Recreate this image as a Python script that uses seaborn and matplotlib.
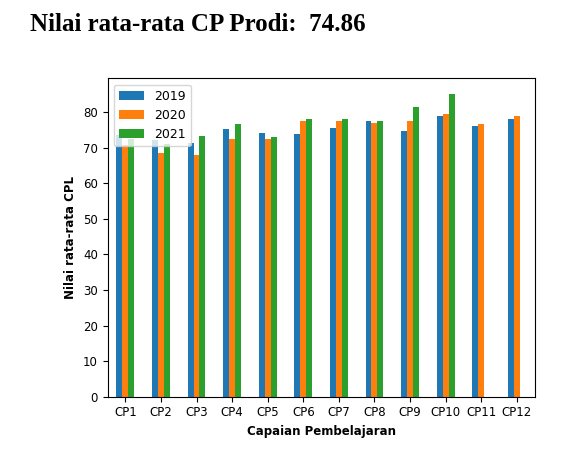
import numpy as np
import pandas as pd
import matplotlib
matplotlib.use('Agg')
import matplotlib.pyplot as plt
import seaborn as sns

categories = ['CP1', 'CP2', 'CP3', 'CP4', 'CP5', 'CP6', 'CP7', 'CP8', 'CP9', 'CP10', 'CP11', 'CP12']
years = ['2019', '2020', '2021']
nilai_2019 = [73.5, 72.1, 71.3, 75.2, 74.0, 73.8, 75.5, 77.4, 74.6, 78.8, 76.1, 77.9]
nilai_2020 = [70.7, 68.5, 67.8, 72.5, 72.3, 77.4, 77.4, 76.9, 77.6, 79.4, 76.7, 78.8]
nilai_2021 = [72.3, 71.1, 73.2, 76.7, 73.0, 78.1, 77.9, 77.6, 81.3, 85.2, np.nan, np.nan]
rata_prodi = 74.86

df = pd.DataFrame({
    'cp': categories * 3,
    'tahun': [y for y in years for _ in categories],
    'nilai': nilai_2019 + nilai_2020 + nilai_2021,
})

fig = plt.figure(figsize=(5.66, 4.49), dpi=100)
ax = fig.add_axes([0.190, 0.1165, 0.7545, 0.709])
sns.barplot(data=df, x='cp', y='nilai', hue='tahun', palette='tab10',
            width=0.5, ax=ax, linewidth=0, saturation=1)

ax.set_xlabel('Capaian Pembelajaran', fontsize=8.5, fontweight='bold')
ax.set_ylabel('Nilai rata-rata CPL', fontsize=8.5, fontweight='bold')
ax.tick_params(labelsize=8.5)
ax.set_yticks(range(0, 90, 10))
sns.move_legend(ax, 'upper left', title=None, fontsize=9, borderaxespad=0.5)

fig.text(0.053, 0.945, f'Nilai rata-rata CP Prodi:  {rata_prodi}', fontsize=18,
         fontweight='bold', family='Liberation Serif', ha='left', va='center')

fig.savefig('out.png', dpi=100)
